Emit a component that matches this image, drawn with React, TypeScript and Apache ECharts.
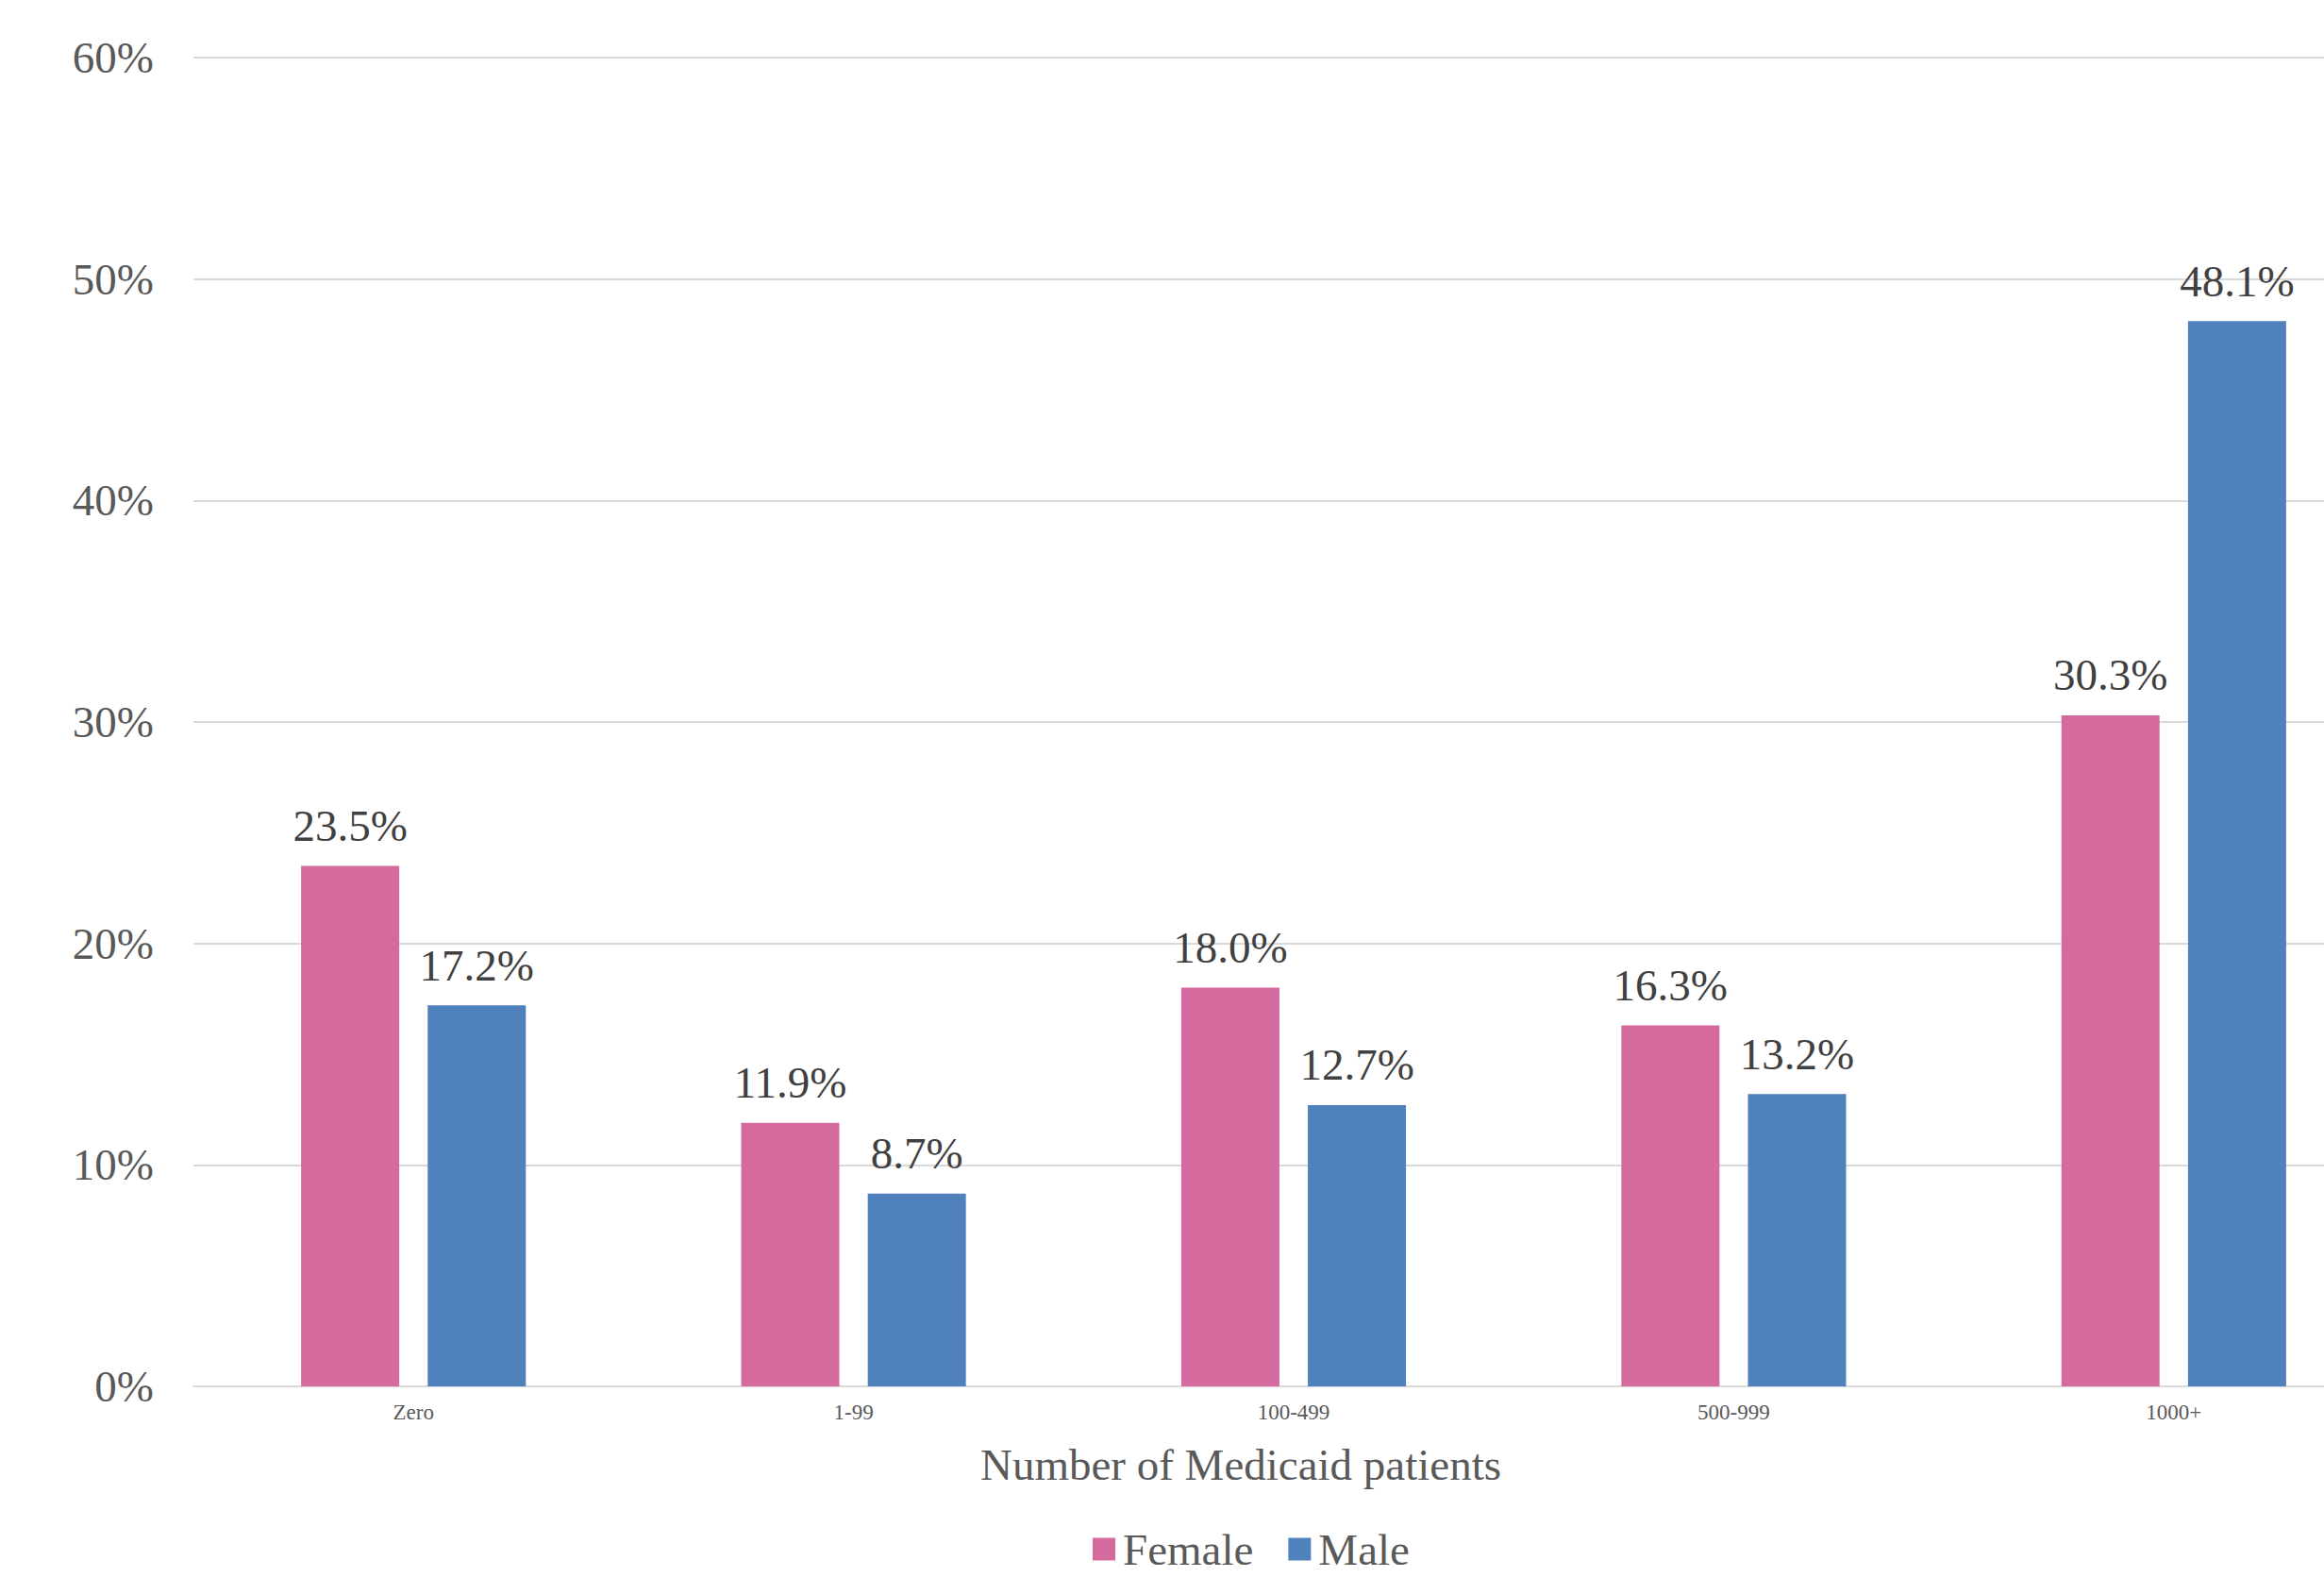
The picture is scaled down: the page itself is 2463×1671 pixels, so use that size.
import React, { useEffect, useRef } from "react";
import * as echarts from "echarts";

const categories = ["Zero", "1-99", "100-499", "500-999", "1000+"];
const femaleValues = [23.5, 11.9, 18.0, 16.3, 30.3];
const maleValues = [17.2, 8.7, 12.7, 13.2, 48.1];
const seriesNames = ["Female", "Male"];
const axisTitle = "Number of Medicaid patients";

const FONT = '"Liberation Serif", "Times New Roman", serif';

export default function App() {
  const ref = useRef<HTMLDivElement>(null);
  useEffect(() => {
    if (!ref.current) return;
    const chart = echarts.init(ref.current, undefined, { renderer: "svg" });
    const label = {
      show: true,
      position: "top",
      distance: 19,
      fontSize: 47,
      fontFamily: FONT,
      color: "#404040",
      formatter: (p: any) => Number(p.value).toFixed(1) + "%",
    };
    chart.setOption({
      animation: false,
      backgroundColor: "#ffffff",
      textStyle: { fontFamily: FONT },
      grid: {
        left: 205,
        top: 61,
        bottom: 202,
        right: -74,
        containLabel: false,
        outerBoundsMode: "none",
      },
      legend: {
        data: seriesNames,
        left: 1153,
        top: 1613,
        itemWidth: 24,
        itemHeight: 24,
        itemGap: 37,
        icon: "rect",
        textStyle: { fontSize: 47, fontFamily: FONT, color: "#595959", padding: [0, 0, 0, 3] },
      },
      xAxis: {
        type: "category",
        data: categories,
        axisLine: { show: true, lineStyle: { color: "#D9D9D9", width: 2 } },
        axisTick: { show: false },
        axisLabel: { fontSize: 23, fontFamily: FONT, color: "#595959", margin: 16 },
      },
      yAxis: {
        type: "value",
        min: 0,
        max: 60,
        interval: 10,
        axisLine: { show: false },
        axisTick: { show: false },
        axisLabel: {
          formatter: "{value}%",
          fontSize: 47,
          fontFamily: FONT,
          color: "#595959",
          margin: 42,
        },
        splitLine: { show: true, lineStyle: { color: "#D9D9D9", width: 2 } },
      },
      graphic: [
        {
          type: "text",
          x: 1315,
          y: 1552,
          style: {
            text: axisTitle,
            fontSize: 47,
            fontFamily: FONT,
            fill: "#595959",
            textAlign: "center",
            textVerticalAlign: "middle",
          },
        },
      ],
      series: [
        {
          name: seriesNames[0],
          type: "bar",
          data: femaleValues,
          barWidth: 104,
          barGap: "29%",
          itemStyle: { color: "#D46A9E" },
          label,
        },
        {
          name: seriesNames[1],
          type: "bar",
          data: maleValues,
          barWidth: 104,
          barGap: "29%",
          itemStyle: { color: "#4F81BD" },
          label,
        },
      ],
    });
    return () => chart.dispose();
  }, []);
  return (
    <div
      ref={ref}
      style={{ position: "absolute", left: 0, top: 0, width: 2463, height: 1671 }}
    />
  );
}
